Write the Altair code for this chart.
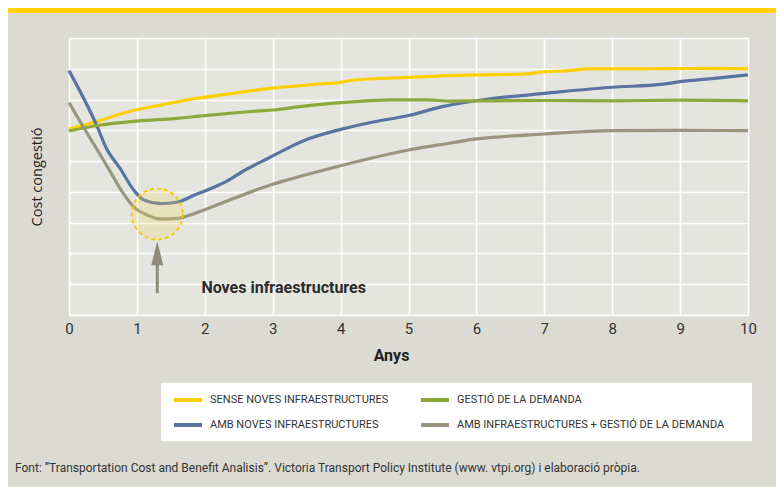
import altair as alt
import pandas as pd

# ---- data ----
years_sense = [0, 0.4, 0.9, 1.35, 1.85, 2.3, 2.8, 3.0, 3.65, 4.0, 4.15, 5.0, 6.0, 6.7, 7.0, 7.35, 7.65, 8.5, 9.3, 10]
cost_sense = [6.05, 6.28, 6.62, 6.82, 7.03, 7.17, 7.32, 7.37, 7.5, 7.56, 7.62, 7.72, 7.8, 7.83, 7.9, 7.94, 8.0, 8.0, 8.01, 8.0]

years_gestio = [0, 0.4, 1.0, 1.6, 2.0, 2.5, 2.8, 3.0, 3.4, 4.0, 4.75, 5.3, 5.6, 6.3, 7.0, 8.0, 9.0, 10]
cost_gestio = [5.98, 6.15, 6.3, 6.39, 6.48, 6.58, 6.63, 6.66, 6.77, 6.9, 6.99, 6.99, 6.95, 6.96, 6.97, 6.96, 6.98, 6.96]

years_amb = [0, 0.41, 0.55, 0.75, 0.97, 1.1, 1.35, 1.6, 1.85, 2.1, 2.32, 2.6, 2.85, 3.0, 3.5, 4.0, 4.5, 5.0, 5.5, 6.0, 6.35, 7.0, 8.0, 8.75, 9.0, 9.5, 10]
cost_amb = [7.94, 6.15, 5.42, 4.77, 4.01, 3.74, 3.62, 3.67, 3.9, 4.12, 4.34, 4.72, 5.0, 5.17, 5.7, 6.03, 6.28, 6.48, 6.77, 6.96, 7.06, 7.2, 7.4, 7.5, 7.58, 7.69, 7.8]

years_amb_gestio = [0, 0.2, 0.55, 0.8, 0.95, 1.15, 1.35, 1.6, 1.85, 2.3, 2.8, 3.0, 3.2, 3.6, 4.0, 5.0, 5.6, 6.0, 6.35, 7.0, 7.6, 8.0, 9.0, 10]
cost_amb_gestio = [6.9, 6.15, 4.88, 3.95, 3.52, 3.25, 3.12, 3.14, 3.3, 3.68, 4.1, 4.25, 4.38, 4.62, 4.85, 5.36, 5.58, 5.72, 5.79, 5.88, 5.96, 5.99, 6.0, 5.99]

# legend order (filled column by column: left column first)
series_names = [
    "SENSE NOVES INFRAESTRUCTURES",
    "AMB NOVES INFRAESTRUCTURES",
    "GESTIÓ DE LA DEMANDA",
    "AMB INFRAESTRUCTURES + GESTIÓ DE LA DEMANDA",
]
series_colors = ["#ffd000", "#5874a0", "#8da93b", "#99957f"]

x_ticks = list(range(0, 11))
y_grid = list(range(0, 10))

highlight_x = [1.3]
highlight_v = [3.28]
arrow_x = [1.3]
arrow_v0 = [0.71]
arrow_v1 = [1.75]
arrow_head_v = [2.01]
note_x = [1.95]
note_v = [0.71]
note_text = ["Noves infraestructures"]
footnote = ("Font: \u201dTransportation Cost and Benefit Analisis\u201d. Victoria Transport Policy "
            "Institute (www. vtpi.org) i elaboració pròpia.")

rows = []
for name, xs, vs in [
    (series_names[0], years_sense, cost_sense),
    (series_names[1], years_amb, cost_amb),
    (series_names[2], years_gestio, cost_gestio),
    (series_names[3], years_amb_gestio, cost_amb_gestio),
]:
    for i, (a, b) in enumerate(zip(xs, vs)):
        rows.append({"series": name, "x": a, "v": b, "order": i})
df = pd.DataFrame(rows)

FONT = "Roboto"

xscale = alt.Scale(domain=[0, 10], nice=False, zero=False)
yscale = alt.Scale(domain=[0, 9], nice=False, zero=False)

X = alt.X(
    "x:Q", scale=xscale,
    axis=alt.Axis(
        values=x_ticks, title="Anys", grid=True, labelFlush=False,
        labelFont=FONT, labelFontSize=15, labelColor="#333333", labelPadding=6,
        titleFont=FONT, titleFontSize=16, titleFontWeight="bold", titleColor="#222222",
        titleX=322, titleY=40, titleBaseline="middle", titleAlign="center",
    ),
)
Y = alt.Y(
    "v:Q", scale=yscale,
    axis=alt.Axis(
        values=y_grid, labels=False, title="Cost congestió", grid=True,
        titleFont="Open Sans", titleFontSize=14.5, titleFontWeight="normal", titleColor="#222222",
        titleX=-32, titleY=138.5, titleAngle=270, titleAlign="center", titleBaseline="middle",
    ),
)

# white panel behind the legend
legend_box = alt.Chart(pd.DataFrame({"t": ["box"]})).mark_rect(color="#ffffff").encode(
    x=alt.value(92), x2=alt.value(683), y=alt.value(345), y2=alt.value(403)
)

lines = alt.Chart(df).mark_line(strokeWidth=3.2, interpolate="monotone").encode(
    x=X,
    y=Y,
    color=alt.Color(
        "series:N",
        scale=alt.Scale(domain=series_names, range=series_colors),
        title=None,
        legend=alt.Legend(
            orient="none", legendX=103, legendY=346, columns=2, padding=0,
            symbolType="stroke", symbolStrokeWidth=4, symbolSize=784,
            labelFont=FONT, labelFontSize=11, labelColor="#333333",
            labelOffset=6, labelLimit=400, columnPadding=24, rowPadding=1,
        ),
    ),
    order="order:Q",
)

circle = alt.Chart(pd.DataFrame({"x": highlight_x, "v": highlight_v})).mark_point(
    shape="circle", size=2600, fill="#f5d75a", fillOpacity=0.25, opacity=1,
    stroke="#f5c800", strokeWidth=1.8, strokeDash=[4, 3],
).encode(x=X, y=Y)

arrow_shaft = alt.Chart(pd.DataFrame({"x": arrow_x, "v": arrow_v0, "v2": arrow_v1})).mark_rule(
    color="#8f8c79", strokeWidth=3,
).encode(x=X, y=Y, y2="v2:Q")

arrow_head = alt.Chart(pd.DataFrame({"x": arrow_x, "v": arrow_head_v})).mark_point(
    shape="M0,-1L0.5,1L-0.5,1Z", size=576, filled=True, fill="#8f8c79", opacity=1, strokeWidth=0,
).encode(x=X, y=Y)

note = alt.Chart(pd.DataFrame({"x": note_x, "v": note_v, "t": note_text})).mark_text(
    align="left", baseline="alphabetic", font=FONT, fontSize=16, fontWeight="bold", color="#2b2b2b",
).encode(x=X, y=Y, text="t:N")

foot = alt.Chart(pd.DataFrame({"t": [footnote]})).mark_text(
    align="left", baseline="middle", font=FONT, fontSize=12, color="#333333",
).encode(x=alt.value(-54), y=alt.value(430), text="t:N")

topbar = alt.Chart(pd.DataFrame({"t": ["bar"]})).mark_rect(color="#ffd200").encode(
    x=alt.value(-61), x2=alt.value(707), y=alt.value(-30), y2=alt.value(-25)
)

chart = alt.layer(legend_box, lines, circle, arrow_shaft, arrow_head, note, foot, topbar).properties(
    width=679,
    height=277,
    background="#dcdbd3",
    padding={"left": 61, "top": 30, "right": 28, "bottom": 172},
    autosize=alt.AutoSizeParams(type="none"),
).configure_view(
    fill="#e5e5df", strokeOpacity=0,
).configure_axis(
    gridColor="#ffffff", gridWidth=1.6, gridOpacity=1, domain=False, ticks=False,
)

chart.save("out.html", embed_options={"renderer": "svg", "actions": False})
